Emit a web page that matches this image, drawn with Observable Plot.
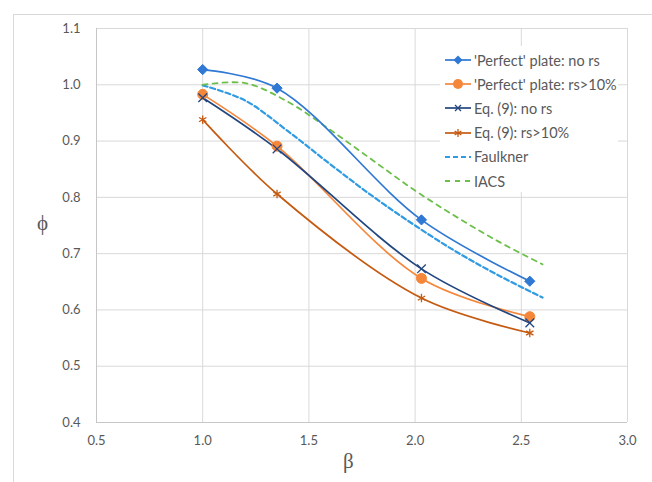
<!DOCTYPE html>
<html>
<head>
<meta charset="utf-8">
<script src="https://cdn.jsdelivr.net/npm/d3@7"></script>
<script src="https://cdn.jsdelivr.net/npm/@observablehq/plot@0.6"></script>
<style>
  html, body { margin: 0; padding: 0; background: #fff; }
  #wrap { position: relative; width: 652px; height: 482px; overflow: hidden; font-family: Lato, "Open Sans", sans-serif; }
  #frame { position: absolute; left: 13px; top: 14px; width: 700px; height: 600px; border-top: 1px solid #d9d9d9; border-left: 1px solid #d9d9d9; pointer-events: none; }
  .axlab { position: absolute; font-family: "Liberation Serif", "DejaVu Serif", serif; font-size: 21px; color: #595959; }
  #legend { position: absolute; left: 440px; top: 46px; width: 178px; height: 146px; background: #fff; }
  .row { position: absolute; left: 4px; height: 24px; display: flex; align-items: center; font-size: 14.5px; color: #595959; white-space: nowrap; }
  .row svg { margin-right: 2px; }
</style>
</head>
<body>
<div id="wrap">
  <div id="chart"></div>
  <div id="frame"></div>
  <div class="axlab" id="ylab" style="left:37px; top:211px;">ϕ</div>
  <div class="axlab" id="xlab" style="left:343px; top:449px;">β</div>
  <div id="legend"></div>
</div>
<script>
// ---- data ----
const beta = [1.0, 1.35, 2.03, 2.54];
const perfectNoRs = [1.027, 0.994, 0.760, 0.651];
const perfectRs10 = [0.983, 0.891, 0.656, 0.588];
const eq9NoRs = [0.977, 0.886, 0.673, 0.577];
const eq9Rs10 = [0.938, 0.806, 0.621, 0.559];

const betaDesign = [1.0, 1.2, 1.4, 1.6, 1.8, 2.0, 2.2, 2.4, 2.6];
const faulkner = [0.999, 0.972, 0.918, 0.859, 0.802, 0.750, 0.702, 0.660, 0.622];
const iacs = [1.000, 1.003, 0.970, 0.920, 0.866, 0.812, 0.764, 0.720, 0.681];

const xTicks = [0.5, 1.0, 1.5, 2.0, 2.5, 3.0];
const yTicks = [0.4, 0.5, 0.6, 0.7, 0.8, 0.9, 1.0, 1.1];

const seriesNames = ["'Perfect' plate: no rs", "'Perfect' plate: rs>10%", "Eq. (9): no rs", "Eq. (9): rs>10%", "Faulkner", "IACS"];
const colors = ["#2f78d4", "#f5873a", "#22467f", "#c55a11", "#2f9be3", "#6cbf4a"];
const symbols = ["diamond2", "circle", "times", "asterisk", null, null];

// ---- build tables ----
const measured = [perfectNoRs, perfectRs10, eq9NoRs, eq9Rs10];
const pts = [];
measured.forEach((arr, i) => arr.forEach((v, j) => pts.push({s: i, x: beta[j], y: v})));
const design = [];
faulkner.forEach((v, j) => design.push({s: 4, x: betaDesign[j], y: v}));
iacs.forEach((v, j) => design.push({s: 5, x: betaDesign[j], y: v}));

const marks = [
  Plot.gridX(xTicks, {stroke: "#d9d9d9", strokeOpacity: 1, strokeWidth: 1}),
  Plot.gridY(yTicks, {stroke: "#d9d9d9", strokeOpacity: 1, strokeWidth: 1}),
  Plot.ruleX([0.5], {stroke: "#c6c6c6"}),
  Plot.ruleY([0.4], {stroke: "#c6c6c6"}),
  Plot.axisX(xTicks, {tickSize: 0, tickPadding: 13, tickFormat: d3.format(".1f"), fontSize: 13, fill: "#595959", label: null}),
  Plot.axisY(yTicks, {tickSize: 0, tickPadding: 16, tickFormat: d3.format(".1f"), fontSize: 13, fill: "#595959", label: null}),
  Plot.line(design.filter(d => d.s === 4), {x: "x", y: "y", curve: "catmull-rom", stroke: colors[4], strokeWidth: 2.2, strokeDasharray: "5,3"}),
  Plot.line(design.filter(d => d.s === 5), {x: "x", y: "y", curve: "catmull-rom", stroke: colors[5], strokeWidth: 1.8, strokeDasharray: "5,5"}),
];
[3, 1, 2, 0].forEach(i => {
  const data = pts.filter(d => d.s === i);
  marks.push(Plot.line(data, {x: "x", y: "y", curve: "catmull-rom", stroke: colors[i], strokeWidth: 1.7}));
});
[3, 1, 2, 0].forEach(i => {
  const data = pts.filter(d => d.s === i);
  const filled = symbols[i] === "diamond2" || symbols[i] === "circle";
  marks.push(Plot.dot(data, {
    x: "x", y: "y", symbol: () => symbols[i],
    r: symbols[i] === "circle" ? 5 : (filled ? 4.6 : 4),
    fill: filled ? colors[i] : "none",
    stroke: colors[i], strokeWidth: filled ? 1 : 1.3
  }));
});

const chart = Plot.plot({
  width: 652, height: 482,
  marginLeft: 96, marginRight: 25, marginTop: 28, marginBottom: 60,
  style: {background: "transparent", fontFamily: "Lato, 'Open Sans', sans-serif"},
  x: {domain: [0.5, 3.0]},
  y: {domain: [0.4, 1.1]},
  symbol: {type: "identity"},
  marks
});
document.getElementById("chart").appendChild(chart);

// ---- legend ----
const leg = document.getElementById("legend");
seriesNames.forEach((name, i) => {
  const row = document.createElement("div");
  row.className = "row";
  row.style.top = (2 + i * 24.2) + "px";
  let icon = `<svg width="28" height="12" viewBox="0 0 28 12">`;
  if (i < 4) {
    icon += `<line x1="1" y1="6" x2="27" y2="6" stroke="${colors[i]}" stroke-width="1.7"/>`;
    if (symbols[i] === "diamond2") icon += `<path d="M14,1.5L18.5,6L14,10.5L9.5,6Z" fill="${colors[i]}"/>`;
    if (symbols[i] === "circle") icon += `<circle cx="14" cy="6" r="5" fill="${colors[i]}"/>`;
    if (symbols[i] === "times") icon += `<path d="M11,3L17,9M11,9L17,3" stroke="${colors[i]}" stroke-width="1.3"/>`;
    if (symbols[i] === "asterisk") icon += `<path d="M14,2V10M10.6,4L17.4,8M10.6,8L17.4,4" stroke="${colors[i]}" stroke-width="1.3"/>`;
  } else if (i === 4) {
    icon += `<line x1="1" y1="6" x2="27" y2="6" stroke="${colors[i]}" stroke-width="2.2" stroke-dasharray="5,3"/>`;
  } else {
    icon += `<line x1="1" y1="6" x2="27" y2="6" stroke="${colors[i]}" stroke-width="1.8" stroke-dasharray="5,5"/>`;
  }
  icon += `</svg>`;
  row.innerHTML = icon + `<span>${name}</span>`;
  leg.appendChild(row);
});
</script>
</body>
</html>
